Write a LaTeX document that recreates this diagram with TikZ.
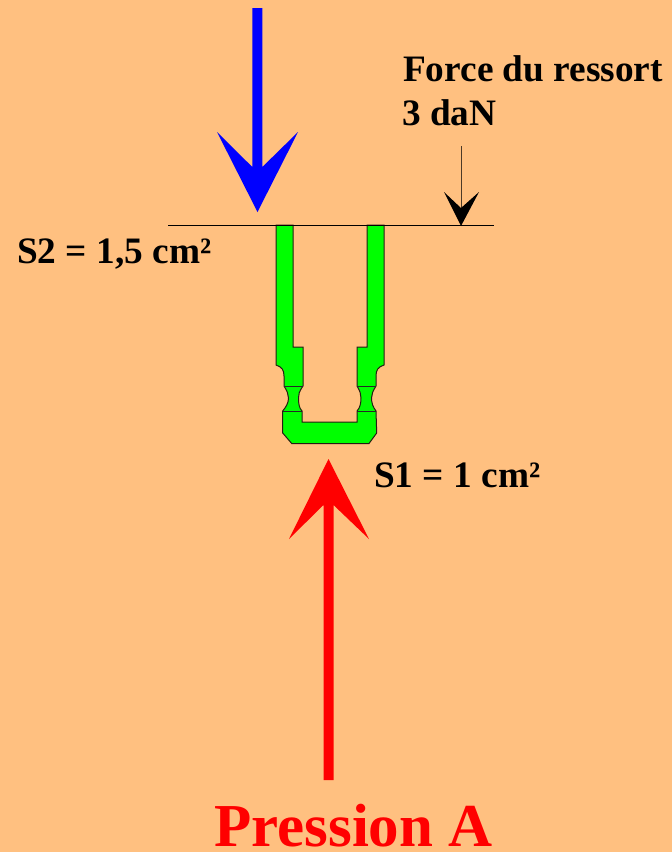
\documentclass[tikz,border=0pt]{standalone}
\usepackage{fontspec}
\setmainfont{Liberation Serif}
\definecolor{bg}{RGB}{255,192,128}
\definecolor{grn}{RGB}{0,255,0}
\tikzset{
  lbl/.style={anchor=base west,inner sep=0pt,font=\bfseries\fontsize{37.3}{40}\selectfont,text=black},
  part/.style={fill=grn,draw=black!85!bg,line width=1pt,line join=miter},
  sep/.style={draw=black!85,line width=0.8pt}
}
\begin{document}
\begin{tikzpicture}[x=1pt,y=-1pt]
\useasboundingbox[fill=bg] (0,0) rectangle (672,852);
% green part
\path[part] (276,225) -- (293,225) -- (293,347) -- (303,347) -- (303,386)
  .. controls (299,392) and (298.5,394) .. (298.5,398)
  .. controls (298.5,403) and (299,408) .. (302,411)
  -- (302,422) -- (357,422) -- (357,411)
  .. controls (360,408) and (361,403) .. (361,398)
  .. controls (361,394) and (360,391) .. (357,386)
  -- (357,347) -- (367,347) -- (367,225) -- (384,225) -- (384,365)
  .. controls (378,367) and (376,370) .. (376,376)
  -- (376,386)
  .. controls (373,391) and (371.5,394) .. (371.5,398)
  .. controls (371.5,403) and (373,407) .. (376,411)
  -- (376.7,433) -- (369,443.5) -- (291.7,443.5) -- (282.7,433) -- (282.7,411)
  .. controls (286,407) and (288.5,403) .. (288.5,398)
  .. controls (288.5,394) and (287,391) .. (284,386)
  -- (284,376)
  .. controls (284,370) and (282,367) .. (276,365) -- cycle;
\draw[sep] (284,386) -- (303,386);
\draw[sep] (357,386) -- (376,386);
\draw[sep] (282.7,411) -- (302,411);
\draw[sep] (357,411) -- (376,411);
% datum line
\draw[black,line width=1pt] (168,225) -- (494,225);
% blue arrow
\fill[blue] (252.3,8) -- (262.3,8) -- (262.3,167) -- (298,132) -- (257.5,212) -- (217,132) -- (252.3,167) -- cycle;
% red arrow
\fill[red] (323.5,780) -- (333.5,780) -- (333.5,505) -- (369,539) -- (328.5,459) -- (289,539) -- (323.5,505) -- cycle;
% black arrow
\draw[black!70!bg,line width=1pt] (461,146) -- (461,212);
\fill[black] (461,226) -- (479,192) -- (461,208) -- (444,192) -- cycle;
% labels
\node[lbl] (force) at (403,81.7) {Force du ressort};
\node[lbl] (dan) at (402,125) {3 daN};
\node[lbl] (s2) at (17,263.5) {S2 = 1,5 cm²};
\node[lbl] (s1) at (374,487.5) {S1 = 1 cm²};
\node[anchor=base west,inner sep=0pt,font=\bfseries\fontsize{61}{66}\selectfont,text=red] (pa) at (214,846) {Pression A};
\end{tikzpicture}
\end{document}
